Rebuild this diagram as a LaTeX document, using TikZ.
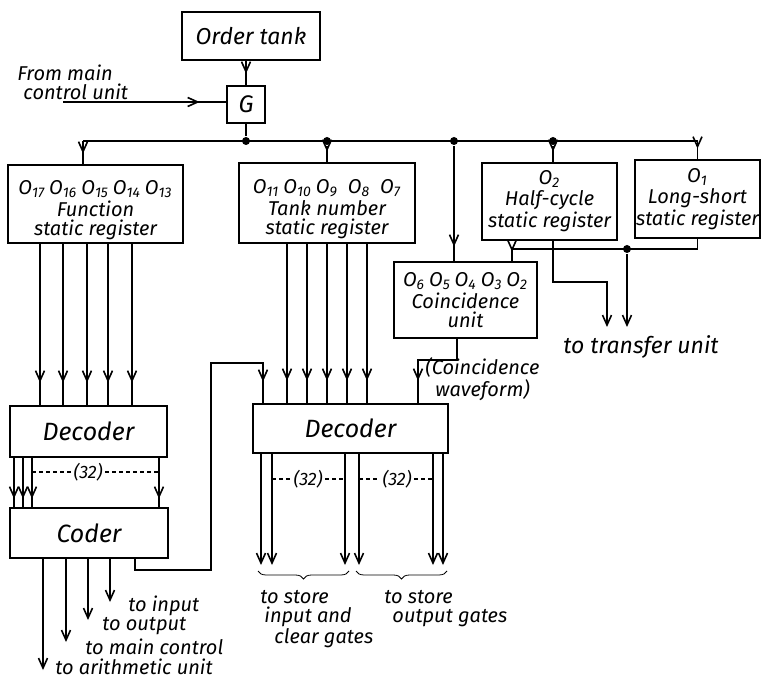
\documentclass[tikz,border=0pt]{standalone}
\usepackage{fontspec}
\setmainfont{Fira Sans}
\usetikzlibrary{arrows.meta,decorations.markings,decorations.pathreplacing}
\newcommand{\ob}[1]{O\textsubscript{#1}}
\newcommand{\obsep}{\hspace{2pt}}
\newcommand{\toppad}{\rule{0pt}{13pt}}

\begin{document}
\begin{tikzpicture}[x=0.5pt,y=-0.5pt,line width=0.8pt,>={Straight Barb[length=5pt,width=4.5pt]},
    font=\fontsize{10}{9.5}\selectfont\itshape,
    unit/.style={draw,line width=1.4pt,inner sep=0pt,align=center},
    bigunit/.style={unit,font=\fontsize{12.5}{12.5}\selectfont\itshape},
    dot/.style={circle,fill,inner sep=0pt,minimum size=4pt},
    tipat/.style={postaction={decorate},decoration={markings,mark=at position -#1 with {\arrow{>}}}},
    numtag/.style={fill=white,inner sep=1pt,font=\fontsize{9}{9}\selectfont\itshape},
    gapline/.style={line width=0.6pt,dash pattern=on 2pt off 1.5pt}]
                \useasboundingbox (0,0) rectangle (765,683);
                \node[unit,minimum width=69pt,minimum height=24pt,font=\fontsize{11.5}{11.5}\selectfont\itshape] (ot) at (251,36) {Order tank};
                \node[unit,minimum width=19pt,minimum height=18.5pt,font=\fontsize{12}{12}\selectfont\itshape] (g) at (246,104.5) {G};
                \node[unit,minimum width=87.5pt,minimum height=39pt] (fn) at (95.5,204) {\toppad\ob{17}\obsep\ob{16}\obsep\ob{15}\obsep\ob{14}\obsep\ob{13}\\[1.5pt]Function\\static register};
                \node[unit,minimum width=88pt,minimum height=40pt] (tn) at (327,203) {\toppad\ob{11}\obsep\ob{10}\obsep\ob{9}\hspace{5pt}\ob{8}\hspace{5pt}\ob{7}\\[1.5pt]Tank number\\static register};
                \node[unit,minimum width=67.5pt,minimum height=38.5pt] (hc) at (549.5,201.5) {\ob{2}\\[1pt]Half-cycle\\static register};
                \node[unit,minimum width=62.5pt,minimum height=39pt] (ls) at (697.5,199) {\ob{1}\\[1pt]Long-short\\static register};
                \node[unit,minimum width=71.5pt,minimum height=38pt] (cu) at (465.5,300) {\ob{6}\obsep\ob{5}\obsep\ob{4}\obsep\ob{3}\obsep\ob{2}\\[1.5pt]Coincidence\\unit};
                \node[bigunit,minimum width=78.5pt,minimum height=25.5pt] (d1) at (88.5,431.5) {Decoder};
                \node[bigunit,minimum width=97.5pt,minimum height=24.5pt] (d2) at (350.5,428.5) {Decoder};
                \node[bigunit,minimum width=79pt,minimum height=25pt] (cd) at (89,533) {Coder};
                \node[anchor=west,align=left] (mcu) at (10,82) {From main\\\hspace{3pt}control unit};
                \coordinate (mc) at (63,102);
                \draw[tipat=13pt] (mc) -- (mc -| g.west);
                \draw[tipat=5.5pt] (ot.south -| g) -- (g.north);
                \node[dot] (j1) at (246,141) {};
                \node[dot] (j2) at (327,141) {};
                \node[dot] (j3) at (454,141) {};
                \node[dot] (j4) at (553,141) {};
                \node[dot] (j5) at (627,249) {};
                \coordinate (bl) at (83,141);
                \coordinate (br) at (697.5,141);
                \draw (g.south) -- (j1);
                \draw (bl) -- (br);
                \draw[tipat=5pt] (bl) -- (bl |- fn.north);
                \draw[tipat=5pt] (j2) -- (tn.north);
                \draw[tipat=7pt] (j3) -- (j3 |- cu.north);
                \draw[tipat=5pt] (j4) -- (j4 |- hc.north);
                \draw[tipat=5pt] (br) -- (ls.north);
                \foreach \x in {40,63,87,108,132}{
                    \draw[tipat=11pt] (fn.south -| \x,0) -- (d1.north -| \x,0);
                }
                \foreach \x in {287,307,327,347,367}{
                    \draw[tipat=11pt] (tn.south -| \x,0) -- (d2.north -| \x,0);
                }
                \draw[tipat=11pt] (cu.south -| 457,0) |- (418,360) -- (d2.north -| 418,0);
                \node[anchor=west,align=left,font=\fontsize{10}{8.5}\selectfont\itshape] (cw) at (418,379) {(Coincidence\\\hspace{5pt}waveform)};
                \draw[->] (hc.south -| 553,0) |- (607,282) -- (607,327);
                \draw[tipat=4.5pt] (ls.south) |- (512,249) -- (cu.north -| 512,0);
                \draw[->] (j5) -- (627,327);
                \node[font=\fontsize{11.5}{11.5}\selectfont\itshape] (tu) at (641,347) {to transfer unit};
                \foreach \x in {14,23,32,159}{
                    \draw[tipat=4pt] (d1.south -| \x,0) -- (cd.north -| \x,0);
                }
                \node[numtag] (n1) at (88,472) {(32)};
                \draw[gapline] (32,472) -- (n1) -- (159,472);
                \draw[tipat=10.5pt] (cd.south -| 135,0) |- (211,570) |- (263,363) -- (d2.north -| 263,0);
                \foreach \x/\y in {43/670,66/642,88/620,110/602}{
                    \draw[->] (cd.south -| \x,0) -- (\x,\y);
                }
                \node[anchor=west] (o1) at (121,606) {to input};
                \node[anchor=west] (o2) at (95,626) {to output};
                \node[anchor=west] (o3) at (78,647) {to main control};
                \node[anchor=west] (o4) at (48,667) {to arithmetic unit};
                \foreach \x in {261,272,345,359,433,443}{
                    \draw[->] (d2.south -| \x,0) -- (\x,565);
                }
                \node[numtag] (n2) at (308,479) {(32)};
                \node[numtag] (n3) at (397,479) {(32)};
                \draw[gapline] (272,479) -- (n2) -- (345,479);
                \draw[gapline] (359,479) -- (n3) -- (433,479);
                \draw[thin,decorate,decoration={brace,mirror,amplitude=4pt}] (258,571) -- (349,571);
                \draw[thin,decorate,decoration={brace,mirror,amplitude=4pt}] (356,571) -- (447,571);
                \node[anchor=north west,align=left] (s1) at (253,583) {to store\\\hspace{2pt}input and\\\hspace{7pt}clear gates};
                \node[anchor=north west,align=left] (s2) at (377,583) {to store\\\hspace{4pt}output gates};
            \end{tikzpicture}
\end{document}
